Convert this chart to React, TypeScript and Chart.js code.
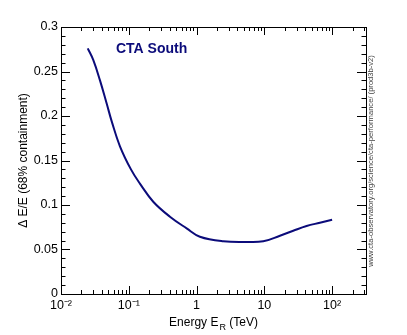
import React, { useEffect, useRef } from "react";
import { Chart, registerables } from "chart.js";

Chart.register(...registerables);

// Energy (TeV) and energy resolution ΔE/E (68% containment)
const energy = [0.0248, 0.0299, 0.0376, 0.0472, 0.056, 0.0741, 0.1077, 0.146, 0.2297, 0.405, 0.714, 1.12, 2.48, 5.48, 9.64, 17.0, 26.7, 42.0, 66.0, 100];
const resolution = [0.276, 0.263, 0.24, 0.214, 0.194, 0.166, 0.14, 0.124, 0.1037, 0.0869, 0.0738, 0.0644, 0.0592, 0.0584, 0.0592, 0.0655, 0.0711, 0.0764, 0.0801, 0.0835];

const xTickValues = [0.01, 0.1, 1, 10, 100];
const xTickLabels = ["10\u207B\u00B2", "10\u207B\u00B9", "1", "10", "10\u00B2"];
const yTickValues = [0, 0.05, 0.1, 0.15, 0.2, 0.25, 0.3];
const yTickLabels = ["0", "0.05", "0.1", "0.15", "0.2", "0.25", "0.3"];

const X_MIN = 0.01;
const X_MAX = 316.2;
const Y_MIN = 0;
const Y_MAX = 0.3;

const FONT = "'Liberation Sans', Arial, Helvetica, sans-serif";

const framePlugin = {
  id: "rootFrame",
  afterDraw(chart: any) {
    const ctx = chart.ctx as CanvasRenderingContext2D;
    const { left, right, top, bottom } = chart.chartArea;
    const xs = chart.scales.x;
    const ys = chart.scales.y;
    ctx.save();
    ctx.strokeStyle = "#000";
    ctx.lineWidth = 1;
    ctx.strokeRect(Math.round(left) + 0.5, Math.round(top) + 0.5, Math.round(right - left), Math.round(bottom - top));

    ctx.beginPath();
    for (let i = 0; i <= 30; i++) {
      const v = i * 0.01;
      const py = Math.round(ys.getPixelForValue(v)) + 0.5;
      const len = i % 5 === 0 ? 9 : 4.5;
      ctx.moveTo(left, py);
      ctx.lineTo(left + len, py);
      ctx.moveTo(right, py);
      ctx.lineTo(right - len, py);
    }
    for (let d = -2; d <= 2; d++) {
      for (let m = 1; m <= 9; m++) {
        const v = m * Math.pow(10, d);
        if (v < X_MIN || v > X_MAX) continue;
        const px = Math.round(xs.getPixelForValue(v)) + 0.5;
        const len = m === 1 ? 8 : 4;
        ctx.moveTo(px, bottom);
        ctx.lineTo(px, bottom - len);
        ctx.moveTo(px, top);
        ctx.lineTo(px, top + len);
      }
    }
    ctx.stroke();

    ctx.fillStyle = "#0b0b7a";
    ctx.font = `bold 14px ${FONT}`;
    ctx.textAlign = "left";
    ctx.textBaseline = "middle";
    ctx.fillText("CTA South", 116, 49);

    ctx.fillStyle = "#000";
    const fs = 12;
    const part1 = "Energy E";
    const sub = "R";
    const part2 = " (TeV)";
    ctx.font = `${fs}px ${FONT}`;
    const w1 = ctx.measureText(part1).width;
    const w3 = ctx.measureText(part2).width;
    ctx.font = `${fs * 0.75}px ${FONT}`;
    const w2 = ctx.measureText(sub).width + 1;
    const total = w1 + w2 + w3;
    const cx = (left + right) / 2;
    const x0 = cx - total / 2;
    const yb = 326;
    ctx.textBaseline = "alphabetic";
    ctx.font = `${fs}px ${FONT}`;
    ctx.fillText(part1, x0, yb);
    ctx.font = `${fs * 0.75}px ${FONT}`;
    ctx.fillText(sub, x0 + w1 + 1, yb + 4);
    ctx.font = `${fs}px ${FONT}`;
    ctx.fillText(part2, x0 + w1 + w2, yb);

    ctx.save();
    ctx.translate(24, (top + bottom) / 2);
    ctx.rotate(-Math.PI / 2);
    ctx.textAlign = "center";
    ctx.textBaseline = "middle";
    ctx.font = `12px ${FONT}`;
    ctx.fillText("\u0394 E/E (68% containment)", 0, 0);
    ctx.restore();

    ctx.save();
    ctx.translate(371, 161);
    ctx.rotate(-Math.PI / 2);
    ctx.textAlign = "center";
    ctx.textBaseline = "middle";
    ctx.fillStyle = "#444";
    ctx.font = `7.6px ${FONT}`;
    ctx.fillText("www.cta-observatory.org/science/cta-performance/ (prod3b-v2)", 0, 0);
    ctx.restore();

    ctx.restore();
  },
};

export default function App() {
  const ref = useRef<HTMLCanvasElement | null>(null);

  useEffect(() => {
    if (!ref.current) return;
    const points = energy.map((e, i) => ({ x: e, y: resolution[i] }));
    const chart = new Chart(ref.current, {
      type: "scatter",
      data: {
        datasets: [
          {
            data: points,
            showLine: true,
            borderColor: "#0b0b7a",
            borderWidth: 2,
            pointRadius: 0,
            tension: 0.4,
            fill: false,
          },
        ],
      },
      options: {
        responsive: false,
        animation: false,
        devicePixelRatio: 1,
        layout: { padding: { top: 27, right: 41, left: 0, bottom: 0 } },
        plugins: { legend: { display: false }, tooltip: { enabled: false }, title: { display: false } },
        scales: {
          x: {
            type: "logarithmic",
            min: X_MIN,
            max: X_MAX,
            grid: { display: false, drawTicks: false },
            border: { display: false },
            afterBuildTicks: (scale: any) => {
              scale.ticks = xTickValues.map((v) => ({ value: v }));
            },
            afterFit: (scale: any) => {
              scale.height = 41;
            },
            ticks: {
              autoSkip: false,
              maxRotation: 0,
              padding: 4,
              color: "#000",
              font: { family: FONT, size: 12.5 },
              callback: (value: any) => {
                const idx = xTickValues.findIndex((v) => Math.abs(v - Number(value)) / v < 1e-6);
                return idx >= 0 ? xTickLabels[idx] : "";
              },
            },
          },
          y: {
            type: "linear",
            min: Y_MIN,
            max: Y_MAX,
            grid: { display: false, drawTicks: false },
            border: { display: false },
            afterBuildTicks: (scale: any) => {
              scale.ticks = yTickValues.map((v) => ({ value: v }));
            },
            afterFit: (scale: any) => {
              scale.width = 61;
            },
            ticks: {
              autoSkip: false,
              padding: 3,
              color: "#000",
              font: { family: FONT, size: 12.5 },
              callback: (value: any) => {
                const idx = yTickValues.findIndex((v) => Math.abs(v - Number(value)) < 1e-9);
                return idx >= 0 ? yTickLabels[idx] : "";
              },
            },
          },
        },
      },
      plugins: [framePlugin],
    } as any);
    return () => chart.destroy();
  }, []);

  return (
    <div style={{ position: "fixed", left: 0, top: 0, width: 407, height: 335, background: "#fff" }}>
      <canvas ref={ref} width={407} height={335} style={{ width: 407, height: 335, display: "block" }} />
    </div>
  );
}
